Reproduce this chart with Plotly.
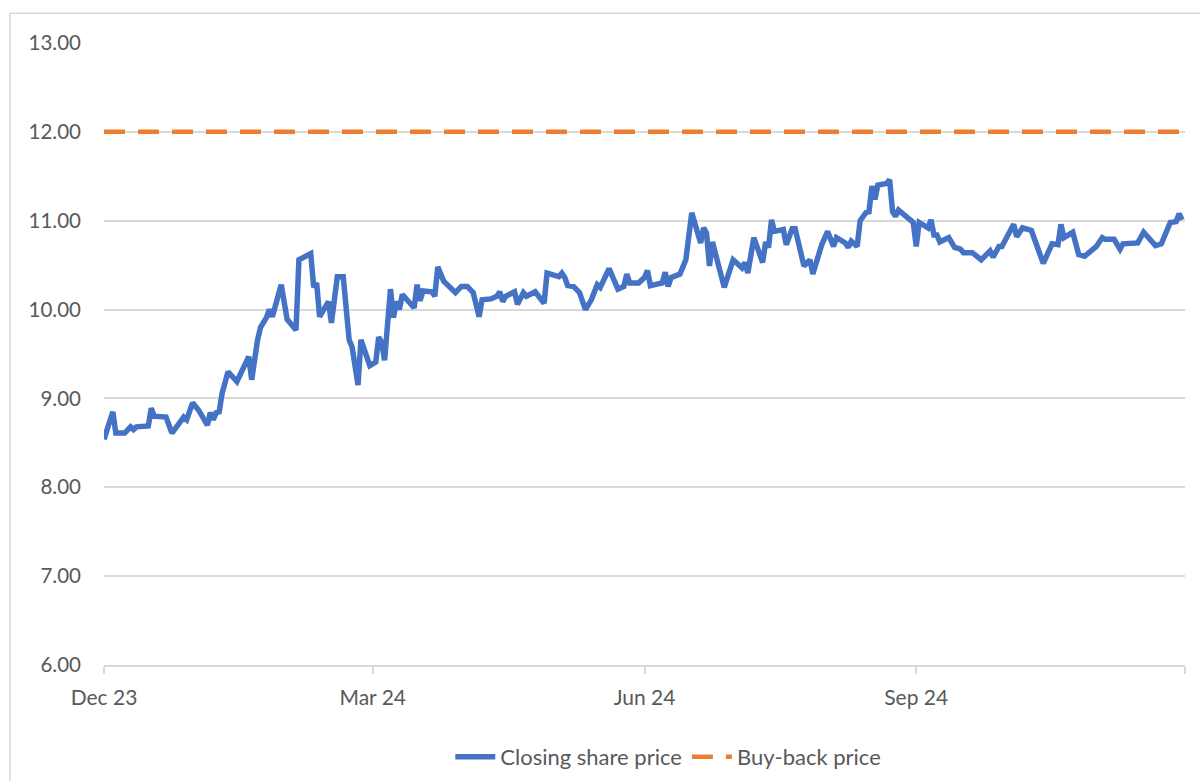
import plotly.graph_objects as go

dates = [
    "2023-12-01", "2023-12-04", "2023-12-05", "2023-12-08", "2023-12-10", "2023-12-11", "2023-12-12",
    "2023-12-16", "2023-12-17", "2023-12-18", "2023-12-22", "2023-12-24", "2023-12-28", "2023-12-29",
    "2023-12-31", "2024-01-02", "2024-01-05", "2024-01-06", "2024-01-07", "2024-01-08", "2024-01-09",
    "2024-01-10", "2024-01-12", "2024-01-14", "2024-01-15", "2024-01-19", "2024-01-20", "2024-01-22",
    "2024-01-23", "2024-01-25", "2024-01-26", "2024-01-27", "2024-01-30", "2024-02-01", "2024-02-04",
    "2024-02-05", "2024-02-09", "2024-02-10", "2024-02-11", "2024-02-12", "2024-02-15", "2024-02-16",
    "2024-02-18", "2024-02-20", "2024-02-22", "2024-02-23", "2024-02-25", "2024-02-26", "2024-02-29",
    "2024-03-02", "2024-03-03", "2024-03-04", "2024-03-05", "2024-03-07", "2024-03-08", "2024-03-09",
    "2024-03-10", "2024-03-11", "2024-03-15", "2024-03-16", "2024-03-17", "2024-03-18", "2024-03-21",
    "2024-03-22", "2024-03-23", "2024-03-25", "2024-03-29", "2024-03-31", "2024-04-02", "2024-04-04",
    "2024-04-06", "2024-04-07", "2024-04-10", "2024-04-12", "2024-04-13", "2024-04-14", "2024-04-15",
    "2024-04-18", "2024-04-19", "2024-04-21", "2024-04-22", "2024-04-25", "2024-04-28", "2024-04-29",
    "2024-05-02", "2024-05-03", "2024-05-04", "2024-05-05", "2024-05-06", "2024-05-08", "2024-05-10",
    "2024-05-12", "2024-05-14", "2024-05-16", "2024-05-17", "2024-05-20", "2024-05-23", "2024-05-25",
    "2024-05-26", "2024-05-27", "2024-05-30", "2024-06-01", "2024-06-02", "2024-06-03", "2024-06-07",
    "2024-06-08", "2024-06-09", "2024-06-10", "2024-06-13", "2024-06-15", "2024-06-17", "2024-06-20",
    "2024-06-21", "2024-06-22", "2024-06-23", "2024-06-24", "2024-06-28", "2024-07-01", "2024-07-04",
    "2024-07-05", "2024-07-06", "2024-07-08", "2024-07-11", "2024-07-12", "2024-07-13", "2024-07-14",
    "2024-07-15", "2024-07-18", "2024-07-19", "2024-07-21", "2024-07-22", "2024-07-25", "2024-07-27",
    "2024-07-28", "2024-07-31", "2024-08-02", "2024-08-04", "2024-08-05", "2024-08-08", "2024-08-09",
    "2024-08-10", "2024-08-12", "2024-08-13", "2024-08-15", "2024-08-16", "2024-08-17", "2024-08-18",
    "2024-08-19", "2024-08-22", "2024-08-23", "2024-08-24", "2024-08-25", "2024-08-26", "2024-08-30",
    "2024-08-31", "2024-09-01", "2024-09-02", "2024-09-05", "2024-09-06", "2024-09-07", "2024-09-08",
    "2024-09-09", "2024-09-12", "2024-09-14", "2024-09-16", "2024-09-17", "2024-09-20", "2024-09-23",
    "2024-09-26", "2024-09-27", "2024-09-29", "2024-09-30", "2024-10-04", "2024-10-05", "2024-10-07",
    "2024-10-10", "2024-10-12", "2024-10-13", "2024-10-14", "2024-10-17", "2024-10-19", "2024-10-20",
    "2024-10-21", "2024-10-24", "2024-10-26", "2024-10-28", "2024-11-01", "2024-11-03", "2024-11-04",
    "2024-11-07", "2024-11-09", "2024-11-10", "2024-11-14", "2024-11-15", "2024-11-17", "2024-11-18",
    "2024-11-21", "2024-11-23", "2024-11-25", "2024-11-26", "2024-11-28", "2024-11-29", "2024-11-30",
]

closing_price = [
    8.54, 8.85, 8.61, 8.61, 8.68, 8.65, 8.68,
    8.69, 8.89, 8.80, 8.79, 8.61, 8.79, 8.76,
    8.95, 8.87, 8.70, 8.84, 8.76, 8.84, 8.85,
    9.06, 9.30, 9.21, 9.19, 9.47, 9.21, 9.66,
    9.80, 9.91, 10.00, 9.92, 10.28, 9.89, 9.77,
    10.56, 10.63, 10.25, 10.30, 9.92, 10.09, 9.85,
    10.37, 10.37, 9.66, 9.58, 9.15, 9.66, 9.37,
    9.41, 9.69, 9.63, 9.43, 10.23, 9.91, 10.09,
    10.00, 10.17, 10.02, 10.28, 10.10, 10.21, 10.20,
    10.15, 10.48, 10.32, 10.19, 10.26, 10.26, 10.19,
    9.92, 10.11, 10.12, 10.15, 10.20, 10.09, 10.15,
    10.20, 10.06, 10.19, 10.15, 10.20, 10.07, 10.41,
    10.39, 10.37, 10.41, 10.36, 10.27, 10.26, 10.19,
    10.00, 10.11, 10.28, 10.25, 10.46, 10.23, 10.26,
    10.40, 10.30, 10.30, 10.36, 10.44, 10.27, 10.30,
    10.42, 10.26, 10.36, 10.40, 10.56, 11.09, 10.75,
    10.92, 10.86, 10.49, 10.76, 10.25, 10.56, 10.47,
    10.53, 10.41, 10.81, 10.53, 10.76, 10.70, 11.01,
    10.88, 10.90, 10.73, 10.91, 10.91, 10.49, 10.56,
    10.40, 10.73, 10.88, 10.71, 10.81, 10.75, 10.70,
    10.77, 10.71, 11.00, 11.09, 11.10, 11.39, 11.24,
    11.40, 11.42, 11.46, 11.10, 11.05, 11.12, 11.01,
    10.98, 10.71, 10.98, 10.92, 11.01, 10.84, 10.84,
    10.76, 10.81, 10.70, 10.68, 10.64, 10.64, 10.56,
    10.66, 10.59, 10.71, 10.71, 10.96, 10.82, 10.92,
    10.89, 10.69, 10.62, 10.52, 10.74, 10.73, 10.96,
    10.81, 10.87, 10.62, 10.60, 10.71, 10.81, 10.79,
    10.79, 10.68, 10.74, 10.76, 10.75, 10.87, 10.83,
    10.72, 10.74, 10.93, 10.98, 10.99, 11.08, 11.01,
]

buyback_dates = ["2023-12-01", "2024-12-01"]
buyback_price = [12.0, 12.0]

x_tick_vals = ["2023-12-01", "2024-03-01", "2024-06-01", "2024-09-01", "2024-12-01"]
x_tick_text = ["Dec 23", "Mar 24", "Jun 24", "Sep 24", ""]
y_tick_vals = [6, 7, 8, 9, 10, 11, 12, 13]
y_tick_text = ["6.00", "7.00", "8.00", "9.00", "10.00", "11.00", "12.00", "13.00"]

FONT = "Lato"
TEXT = "#595959"
GRID = "#d9d9d9"

fig = go.Figure()
fig.add_trace(go.Scatter(
    x=dates, y=closing_price, mode="lines", name="Closing share price",
    line=dict(color="#4472C4", width=5.5, shape="linear"),
))
fig.add_trace(go.Scatter(
    x=buyback_dates, y=buyback_price, mode="lines", name="Buy-back price",
    line=dict(color="#ED7D31", width=4.5, dash="21px,13px"),
))

# chart-area border (only top and left edges visible in the crop)
fig.add_shape(type="line", xref="paper", yref="paper",
              x0=-0.087, x1=-0.087, y0=-0.3, y1=1.048,
              line=dict(color=GRID, width=1.5), layer="below")
fig.add_shape(type="line", xref="paper", yref="paper",
              x0=-0.087, x1=1.1, y0=1.048, y1=1.048,
              line=dict(color=GRID, width=1.5), layer="below")

fig.update_layout(
    width=1200, height=781,
    margin=dict(l=104, r=15, t=43, b=116, autoexpand=False),
    paper_bgcolor="white", plot_bgcolor="white",
    font=dict(family=FONT, size=21, color=TEXT),
    showlegend=True,
    legend=dict(orientation="h", x=0.522, xanchor="center", y=-0.148, yanchor="middle",
                font=dict(family=FONT, size=22, color=TEXT), itemwidth=40,
                bgcolor="rgba(0,0,0,0)"),
    xaxis=dict(
        type="date", range=["2023-12-01", "2024-12-01"],
        tickmode="array", tickvals=x_tick_vals, ticktext=x_tick_text,
        showgrid=False, zeroline=False,
        showline=True, linecolor=GRID, linewidth=1.5,
        ticks="outside", ticklen=7, tickcolor=GRID, tickwidth=1.5,
        ticklabelstandoff=6,
        tickfont=dict(family=FONT, size=21, color=TEXT),
    ),
    yaxis=dict(
        range=[6, 13], tickmode="array", tickvals=y_tick_vals, ticktext=y_tick_text,
        showgrid=True, gridcolor=GRID, gridwidth=1.5,
        zeroline=False, showline=False, ticks="",
        ticklabelstandoff=22,
        tickfont=dict(family=FONT, size=20.5, color=TEXT),
    ),
)

fig.write_html("out.html")
